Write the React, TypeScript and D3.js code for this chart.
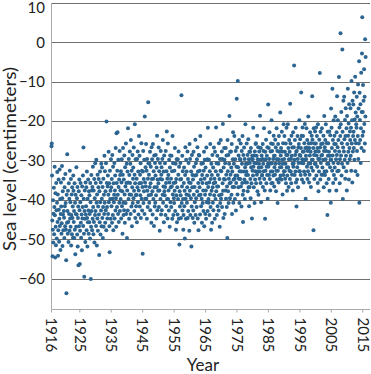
import React from "react";
import * as d3 from "d3";

// monthly sea level (cm), one row of 12 values per year, 1916..2015
const startYear = 1916;
const seaLevel: number[][] = [
  [-26.4, -25.7, -33.8, -45.2, -54.3, -47.6, -40.1, -50.8, -43.5, -36.9, -48.7, -41.8],
  [-31.6, -43.9, -54.6, -38.3, -46.8, -51.5, -35.7, -42.6, -49.8, -40.7, -32.9, -45.6],
  [-38.6, -54.2, -47.7, -34.8, -42.5, -50.6, -44.8, -32.3, -46.6, -39.8, -52.7, -43.6],
  [-35.6, -41.7, -48.6, -45.9, -31.4, -39.6, -51.7, -37.8, -43.7, -47.7, -34.6, -42.8],
  [-44.5, -49.7, -36.8, -41.6, -46.7, -33.4, -40.8, -47.6, -55.3, -63.7, -38.7, -45.8],
  [-28.4, -42.8, -48.6, -37.7, -45.6, -50.7, -35.8, -43.6, -39.7, -47.8, -32.6, -44.7],
  [-40.6, -46.8, -34.7, -51.6, -43.8, -38.6, -48.7, -36.8, -44.6, -41.7, -49.6, -33.8],
  [-37.7, -45.6, -42.8, -49.7, -35.8, -47.6, -40.7, -53.8, -38.7, -43.6, -46.8, -31.7],
  [-43.7, -39.6, -48.8, -36.7, -51.8, -44.6, -41.7, -56.6, -37.8, -46.7, -34.8, -42.6],
  [-56.3, -47.8, -40.6, -35.7, -45.8, -49.6, -38.8, -43.7, -52.8, -36.6, -44.7, -41.8],
  [-33.8, -46.6, -26.7, -39.7, -48.6, -59.5, -42.8, -37.6, -44.8, -50.7, -35.6, -43.7],
  [-41.6, -36.8, -47.7, -32.8, -44.6, -51.8, -39.7, -45.7, -34.8, -42.7, -48.6, -37.8],
  [-45.7, -38.8, -43.6, -49.8, -35.7, -40.6, -60.1, -46.8, -33.7, -42.8, -37.6, -47.7],
  [-36.7, -44.8, -31.6, -41.8, -48.7, -37.6, -45.6, -34.7, -50.8, -39.6, -43.8, -30.7],
  [-42.8, -35.7, -46.6, -29.8, -40.7, -51.6, -38.6, -44.7, -33.6, -47.8, -41.7, -36.8],
  [-34.7, -43.7, -54.0, -37.8, -45.7, -32.8, -40.6, -48.8, -35.6, -42.7, -30.8, -46.7],
  [-39.7, -31.8, -44.6, -36.7, -49.7, -41.8, -34.6, -46.8, -38.7, -43.6, -28.8, -40.7],
  [-32.7, -45.8, -37.8, -42.6, -30.7, -47.7, -20.1, -35.7, -41.8, -44.7, -36.6, -33.8],
  [-43.6, -38.7, -27.8, -40.6, -35.8, -46.7, -53.3, -32.6, -39.8, -37.7, -44.8, -29.7],
  [-36.8, -41.6, -34.7, -45.8, -28.6, -39.7, -43.8, -31.6, -47.7, -35.8, -40.6, -38.7],
  [-30.6, -44.7, -37.6, -33.8, -42.7, -26.8, -39.6, -46.8, -23.1, -35.7, -41.8, -32.6],
  [-22.8, -38.7, -43.6, -29.8, -36.7, -45.6, -34.8, -40.7, -27.6, -42.8, -33.7, -37.6],
  [-39.8, -32.7, -44.7, -35.6, -29.7, -41.6, -37.8, -48.6, -33.6, -26.8, -40.7, -43.8],
  [-34.8, -42.6, -28.7, -38.6, -45.8, -31.7, -36.6, -40.8, -25.7, -43.6, -35.7, -30.8],
  [-49.7, -37.6, -32.8, -42.7, -21.8, -35.6, -39.8, -29.6, -44.8, -33.7, -38.6, -27.7],
  [-35.7, -30.8, -43.6, -24.8, -38.7, -41.7, -32.6, -46.7, -36.8, -28.6, -40.8, -34.6],
  [-31.8, -39.6, -26.7, -37.7, -42.8, -33.6, -20.8, -35.8, -44.6, -29.7, -38.8, -41.6],
  [-38.7, -34.6, -45.7, -29.6, -36.8, -27.7, -40.6, -32.8, -43.7, -37.6, -23.8, -35.8],
  [-28.8, -41.7, -33.6, -38.8, -30.7, -44.6, -35.7, -25.6, -39.7, -32.6, -42.7, -36.7],
  [-53.7, -32.8, -27.6, -40.8, -34.7, -37.8, -29.8, -43.6, -18.8, -35.6, -39.7, -31.7],
  [-36.6, -25.8, -39.7, -32.6, -44.8, -29.6, -37.7, -41.8, -34.6, -15.2, -30.7, -38.8],
  [-33.6, -40.7, -30.8, -36.7, -27.8, -42.6, -35.8, -31.6, -38.7, -45.8, -26.6, -34.7],
  [-29.7, -37.8, -43.7, -25.8, -34.6, -39.8, -32.7, -46.6, -28.7, -36.8, -41.7, -30.6],
  [-40.7, -33.8, -28.6, -38.8, -44.7, -31.8, -36.7, -23.7, -42.6, -34.8, -29.6, -37.7],
  [-35.8, -26.7, -41.8, -32.7, -37.6, -47.8, -30.6, -34.7, -39.8, -27.6, -43.7, -33.6],
  [-31.7, -42.6, -34.8, -29.6, -38.7, -24.8, -40.7, -36.6, -32.8, -45.7, -28.7, -37.8],
  [-38.8, -30.7, -36.7, -43.8, -27.6, -35.7, -41.6, -32.7, -22.6, -39.8, -34.6, -44.7],
  [-25.7, -39.8, -33.7, -37.6, -42.7, -29.8, -35.6, -46.8, -31.8, -28.7, -40.6, -36.8],
  [-34.6, -41.8, -28.8, -36.6, -32.7, -44.8, -23.8, -38.6, -30.7, -43.8, -35.7, -39.6],
  [-40.8, -32.6, -37.7, -26.8, -42.8, -35.6, -30.8, -47.6, -34.7, -38.8, -29.7, -45.7],
  [-36.8, -43.7, -29.7, -39.8, -33.6, -27.7, -44.8, -31.6, -51.3, -37.8, -41.7, -34.8],
  [-30.6, -38.8, -44.6, -34.7, -13.4, -40.8, -36.6, -28.8, -42.7, -32.7, -39.8, -47.6],
  [-43.8, -35.7, -31.8, -41.6, -37.7, -49.8, -33.7, -26.6, -39.7, -44.8, -29.8, -38.6],
  [-32.8, -40.7, -36.8, -27.7, -44.6, -34.7, -42.8, -30.6, -38.8, -35.6, -47.8, -25.8],
  [-37.7, -29.6, -43.8, -35.7, -39.6, -32.8, -51.8, -41.7, -28.6, -36.8, -33.7, -44.6],
  [-34.8, -42.7, -27.8, -38.7, -31.6, -45.8, -36.7, -40.6, -33.8, -24.7, -43.8, -30.7],
  [-39.6, -33.7, -41.8, -29.7, -37.8, -26.6, -44.7, -32.8, -35.7, -47.7, -28.6, -38.8],
  [-28.7, -36.8, -32.6, -43.7, -23.8, -38.7, -34.8, -41.6, -30.8, -39.7, -45.8, -33.7],
  [-35.7, -40.8, -30.7, -37.6, -42.8, -32.6, -27.8, -46.7, -34.6, -29.8, -38.7, -43.6],
  [-31.8, -37.6, -44.8, -26.7, -35.8, -40.6, -33.8, -29.7, -42.8, -21.7, -36.7, -39.8],
  [-40.7, -29.8, -35.6, -43.8, -32.7, -38.6, -25.8, -41.8, -34.7, -47.6, -30.8, -37.7],
  [-33.7, -45.8, -28.6, -36.8, -40.7, -31.8, -42.6, -35.8, -26.7, -38.8, -34.6, -44.8],
  [-27.8, -35.6, -39.8, -32.7, -21.6, -37.8, -30.7, -43.8, -36.6, -28.8, -41.6, -33.7],
  [-36.6, -30.8, -42.7, -25.6, -38.8, -34.7, -46.8, -29.6, -40.8, -32.6, -24.8, -39.7],
  [-32.7, -38.6, -27.7, -41.8, -29.6, -35.8, -20.7, -37.7, -44.6, -31.8, -34.7, -26.8],
  [-29.8, -43.6, -34.8, -30.7, -37.6, -26.8, -39.7, -33.6, -28.7, -41.8, -36.6, -49.7],
  [-24.8, -32.7, -37.8, -28.6, -40.8, -34.6, -30.8, -18.7, -35.8, -39.6, -27.8, -33.6],
  [-35.6, -27.7, -31.8, -38.7, -25.8, -43.6, -32.8, -36.7, -29.7, -22.8, -40.7, -34.8],
  [-30.8, -36.7, -23.8, -34.6, -39.8, -29.7, -33.8, -27.6, -42.7, -35.7, -31.6, -14.3],
  [-26.7, -33.8, -38.6, -9.8, -31.7, -36.8, -28.7, -34.6, -24.8, -40.8, -32.7, -29.6],
  [-34.7, -29.8, -25.7, -36.6, -32.8, -41.7, -27.6, -30.8, -35.7, -23.8, -38.7, -45.6],
  [-28.6, -37.7, -32.8, -26.7, -34.8, -29.6, -39.8, -31.7, -20.8, -35.6, -30.8, -33.7],
  [-32.8, -25.7, -35.6, -30.8, -28.6, -37.8, -33.7, -24.6, -36.8, -29.7, -41.6, -27.8],
  [-36.7, -30.6, -27.8, -34.7, -39.6, -26.8, -31.7, -35.8, -29.6, -44.7, -28.8, -32.6],
  [-29.7, -33.8, -21.7, -31.6, -36.8, -28.7, -30.6, -40.8, -27.7, -34.8, -32.7, -25.8],
  [-25.6, -35.8, -30.7, -28.8, -33.6, -23.7, -37.8, -29.7, -32.8, -26.6, -38.7, -31.8],
  [-30.8, -27.7, -34.6, -32.8, -18.6, -29.8, -35.7, -26.8, -40.6, -31.7, -28.7, -33.8],
  [-33.7, -29.6, -25.8, -36.7, -30.8, -27.6, -32.7, -21.8, -34.7, -29.8, -37.6, -44.8],
  [-27.8, -32.6, -29.7, -24.7, -35.8, -31.6, -28.8, -33.7, -26.6, -39.7, -30.8, -15.8],
  [-31.6, -26.8, -33.7, -29.6, -22.8, -34.7, -30.8, -37.6, -27.7, -32.8, -25.7, -35.8],
  [-19.8, -30.7, -27.6, -32.8, -35.7, -25.8, -29.6, -33.8, -23.7, -28.8, -36.6, -31.7],
  [-28.8, -33.6, -24.7, -30.8, -26.7, -37.8, -32.6, -21.8, -29.7, -34.8, -27.6, -40.8],
  [-32.6, -25.8, -29.7, -35.6, -23.8, -30.7, -27.8, -34.6, -31.7, -17.8, -33.8, -28.7],
  [-26.8, -31.7, -34.8, -22.7, -29.8, -27.7, -38.6, -30.8, -25.6, -33.7, -20.8, -32.7],
  [-29.6, -23.8, -32.7, -27.8, -34.6, -30.8, -25.7, -35.8, -28.6, -21.7, -31.8, -37.7],
  [-33.8, -28.6, -20.8, -31.7, -26.8, -36.7, -29.7, -24.8, -32.6, -27.8, -34.7, -15.6],
  [-25.7, -32.8, -29.6, -35.8, -23.7, -28.8, -33.6, -26.7, -30.8, -37.6, -22.8, -31.6],
  [-30.7, -26.6, -5.9, -29.8, -33.7, -24.8, -28.6, -32.8, -21.7, -35.6, -27.8, -41.7],
  [-27.6, -34.8, -31.7, -23.8, -29.6, -36.8, -26.7, -30.6, -25.8, -32.7, -19.8, -28.6],
  [-32.7, -24.6, -28.8, -33.7, -26.8, -12.7, -30.6, -23.7, -34.8, -29.7, -21.6, -27.8],
  [-23.8, -30.7, -35.6, -27.7, -32.8, -25.6, -29.8, -20.7, -33.6, -26.8, -39.7, -28.8],
  [-29.7, -21.8, -26.7, -31.6, -24.8, -34.7, -27.6, -32.7, -18.8, -30.8, -25.7, -35.6],
  [-26.8, -33.6, -28.7, -22.8, -30.7, -27.8, -36.7, -25.6, -31.8, -23.7, -29.8, -13.7],
  [-24.7, -29.8, -32.6, -26.8, -47.7, -21.8, -28.6, -34.7, -25.7, -30.8, -22.6, -27.7],
  [-30.8, -25.7, -21.6, -33.8, -28.7, -23.8, -31.6, -26.8, -35.7, -20.8, -29.6, -37.8],
  [-27.7, -32.8, -24.7, -29.6, -7.8, -26.7, -34.8, -22.7, -30.6, -25.8, -28.7, -33.6],
  [-21.8, -28.6, -31.8, -25.7, -33.6, -29.8, -23.7, -36.8, -27.6, -18.7, -32.8, -26.6],
  [-33.7, -24.8, -29.7, -20.8, -27.6, -32.7, -35.8, -25.6, -30.8, -43.8, -22.7, -28.8],
  [-25.6, -30.8, -34.7, -27.8, -22.6, -37.7, -28.8, -31.7, -23.6, -29.8, -40.7, -16.8],
  [-29.8, -21.7, -26.8, -32.6, -11.8, -28.7, -24.8, -35.7, -30.6, -19.8, -33.7, -25.8],
  [-23.7, -31.8, -27.6, -18.8, -34.7, -25.8, -29.7, -37.6, -22.8, -28.6, -13.7, -32.7],
  [-26.6, -19.8, -30.7, -24.8, -32.6, -8.8, -27.7, -21.6, -35.8, -29.7, -23.8, 2.3],
  [-20.8, -28.7, -17.7, -33.8, -25.6, -30.8, -1.8, -22.7, -39.8, -26.7, -14.8, -31.7],
  [-27.7, -13.8, -24.6, -29.8, -19.7, -34.6, -23.8, -16.7, -28.8, -32.7, -21.8, -37.6],
  [-18.7, -25.8, -30.6, -11.8, -23.7, -27.8, -20.6, -34.8, -15.7, -26.8, -29.7, -22.6],
  [-24.8, -16.7, -28.8, -21.7, -32.6, -9.8, -25.7, -19.8, -35.6, -14.8, -27.7, -23.8],
  [-15.8, -22.7, -26.8, -12.7, -29.8, -19.6, -24.8, -8.7, -32.7, -17.8, -25.6, -20.8],
  [-21.7, -13.8, -27.6, -18.8, -33.7, -23.8, -10.7, -29.6, -16.8, -25.7, -4.8, -40.7],
  [-12.8, -19.7, -24.8, -15.7, -30.6, -21.8, -7.7, -26.8, -17.7, -2.8, 6.4, -23.7],
  [-17.7, -10.8, -22.7, -14.8, -27.6, -6.8, -20.7, -13.8, -25.7, 0.8, -18.8, -3.7],
];

const yearTicks = [1916, 1925, 1935, 1945, 1955, 1965, 1975, 1985, 1995, 2005, 2015];
const levelTicks = [10, 0, -10, -20, -30, -40, -50, -60];

const W = 371;
const H = 374;
const font = "Lato, 'Noto Sans', sans-serif";

export default function App() {
  const x = d3.scaleLinear().domain([1916, 2017.3]).range([51.5, 370]);
  const y = d3.scaleLinear().domain([-67.7, 10]).range([309, 3]);

  const points = seaLevel.flatMap((row, i) =>
    row.map((v, m) => ({ t: startYear + i + m / 12, v }))
  );

  return (
    <svg
      width={W}
      height={H}
      style={{ position: "absolute", left: 0, top: 0 }}
      fontFamily={font}
    >
      {/* gridlines */}
      <g>
        {levelTicks.map((t) => (
          <line
            key={t}
            x1={x.range()[0]}
            x2={x.range()[1]}
            y1={Math.round(y(t)) + 0.5}
            y2={Math.round(y(t)) + 0.5}
            stroke="#6f6f6f"
            strokeWidth={1}
          />
        ))}
      </g>
      {/* y axis */}
      <line x1={51.5} x2={51.5} y1={3} y2={309} stroke="#aaa" />
      {levelTicks.map((t) => (
        <text
          key={t}
          x={45}
          y={Math.max(y(t), 7.5)}
          dy="0.35em"
          textAnchor="end"
          fontSize={15}
          fill="#222"
        >
          {t < 0 ? `\u2212${-t}` : t}
        </text>
      ))}
      {/* x axis */}
      <line x1={51.5} x2={370} y1={309.5} y2={309.5} stroke="#aaa" />
      {yearTicks.map((t) => (
        <g key={t} transform={`translate(${x(t)},309.5)`}>
          <line y2={3} stroke="#aaa" />
          <text
            transform="translate(0,8) rotate(90)"
            dy="0.35em"
            textAnchor="start"
            fontSize={15}
            fill="#222"
          >
            {t}
          </text>
        </g>
      ))}
      {/* points */}
      <g fill="#2c6591">
        {points.map((p, i) => (
          <circle key={i} cx={x(p.t)} cy={y(p.v)} r={2} />
        ))}
      </g>
      {/* titles */}
      <text x={203} y={371} textAnchor="middle" fontSize={17} fill="#222">
        Year
      </text>
      <text
        transform="translate(16,159) rotate(-90)"
        textAnchor="middle"
        fontSize={17}
        textLength={184}
        lengthAdjust="spacingAndGlyphs"
        fill="#222"
      >
        Sea level (centimeters)
      </text>
    </svg>
  );
}
